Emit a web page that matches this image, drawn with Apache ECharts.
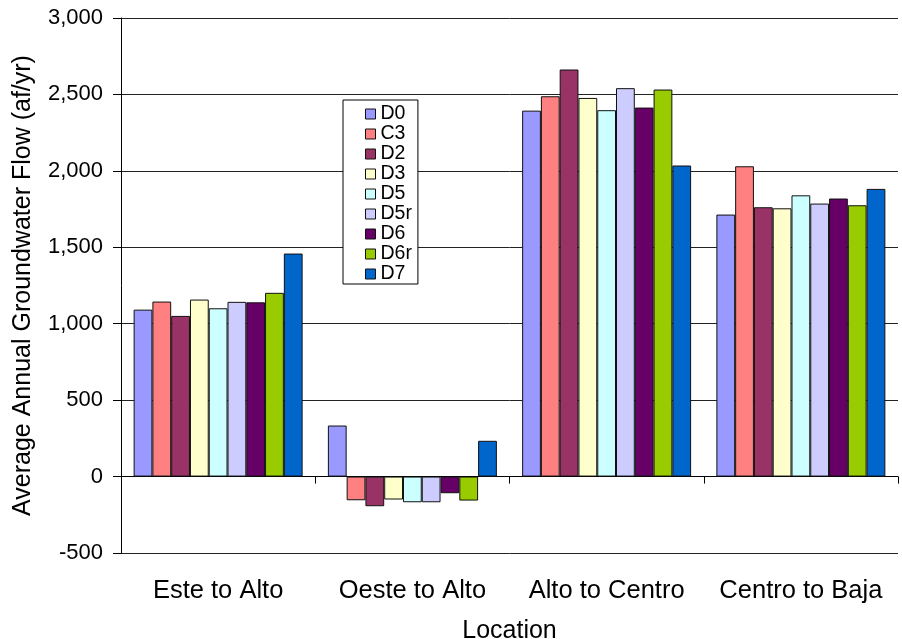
<!DOCTYPE html>
<html>
<head>
<meta charset="utf-8">
<script src="https://cdn.jsdelivr.net/npm/echarts@6/dist/echarts.min.js"></script>
<style>
html, body { margin: 0; padding: 0; background: #fff; }
#chart { width: 902px; height: 639px; }
</style>
</head>
<body>
<div id="chart"></div>
<script>
// data
var locations = ['Este to Alto', 'Oeste to Alto', 'Alto to Centro', 'Centro to Baja'];
var scenarios = ['D0', 'C3', 'D2', 'D3', 'D5', 'D5r', 'D6', 'D6r', 'D7'];
var D0  = [1092,  334, 2394, 1714];
var C3  = [1145, -155, 2488, 2030];
var D2  = [1051, -194, 2663, 1762];
var D3  = [1158, -150, 2477, 1755];
var D5  = [1101, -168, 2397, 1840];
var D5r = [1143, -168, 2541, 1786];
var D6  = [1140, -109, 2414, 1819];
var D6r = [1202, -157, 2532, 1775];
var D7  = [1459,  234, 2035, 1882];
var yTicks = [-500, 0, 500, 1000, 1500, 2000, 2500, 3000];

var values = [D0, C3, D2, D3, D5, D5r, D6, D6r, D7];
var colors = ['#9999FF', '#FF8080', '#993366', '#FFFFCC', '#CCFFFF', '#CCCCFF', '#660066', '#99CC00', '#0066CC'];
var font = 'Liberation Sans, Arial, sans-serif';

var myChart = echarts.init(document.getElementById('chart'));

var series = [];
for (var i = 0; i < scenarios.length; i++) {
	series.push({
		name : scenarios[i],
		type : 'bar',
		xAxisIndex : 0,
		data : values[i],
		barGap : '0%',
		barCategoryGap : '13%',
		itemStyle : {
			color : colors[i],
			borderColor : '#111',
			borderWidth : 1
		}
	});
}

var option = {
	animation : false,
	textStyle : { fontFamily : font },
	grid : { left : 121, top : 18, right : 4, bottom : 86, outerBoundsMode : 'none', containLabel : false },
	legend : {
		orient : 'vertical',
		left : 343,
		top : 100,
		padding : [4, 6, 0, 22],
		itemGap : 0,
		itemWidth : 10,
		itemHeight : 10,
		backgroundColor : '#fff',
		borderColor : '#000',
		borderWidth : 1,
		data : scenarios.map(function(s, i) {
			return { name : s, icon : 'rect', itemStyle : { color : colors[i], borderColor : '#111', borderWidth : 1 } };
		}),
		textStyle : { fontFamily : font, fontSize : 19.5, lineHeight : 20, color : '#000' }
	},
	xAxis : [ {
		type : 'category',
		data : locations,
		position : 'bottom',
		axisLine : { show : false, onZero : false },
		axisTick : { show : false },
		axisLabel : { interval : 0, fontFamily : font, fontSize : 25.5, color : '#000', margin : 25 },
		name : 'Location',
		nameLocation : 'middle',
		nameGap : 66,
		nameTextStyle : { fontFamily : font, fontSize : 25, color : '#000' }
	}, {
		type : 'category',
		data : locations,
		position : 'bottom',
		axisLine : { show : true, onZero : true, lineStyle : { color : '#000', width : 1 } },
		axisTick : { show : true, interval : 0, length : 7, lineStyle : { color : '#000' } },
		axisLabel : { show : false }
	} ],
	yAxis : {
		type : 'value',
		min : yTicks[0],
		max : yTicks[yTicks.length - 1],
		interval : 500,
		axisLine : { show : true, lineStyle : { color : '#000' } },
		axisTick : { show : true, length : 8, lineStyle : { color : '#000' } },
		splitLine : { show : true, lineStyle : { color : '#222', width : 1 } },
		axisLabel : {
			fontFamily : font,
			fontSize : 22,
			color : '#000',
			margin : 18,
			formatter : function(v) { return v.toLocaleString('en-US'); }
		},
		name : 'Average Annual Groundwater Flow (af/yr)',
		nameLocation : 'middle',
		nameGap : 85,
		nameTextStyle : { fontFamily : font, fontSize : 25, color : '#000' }
	},
	series : series
};
myChart.setOption(option);
</script>
</body>
</html>
